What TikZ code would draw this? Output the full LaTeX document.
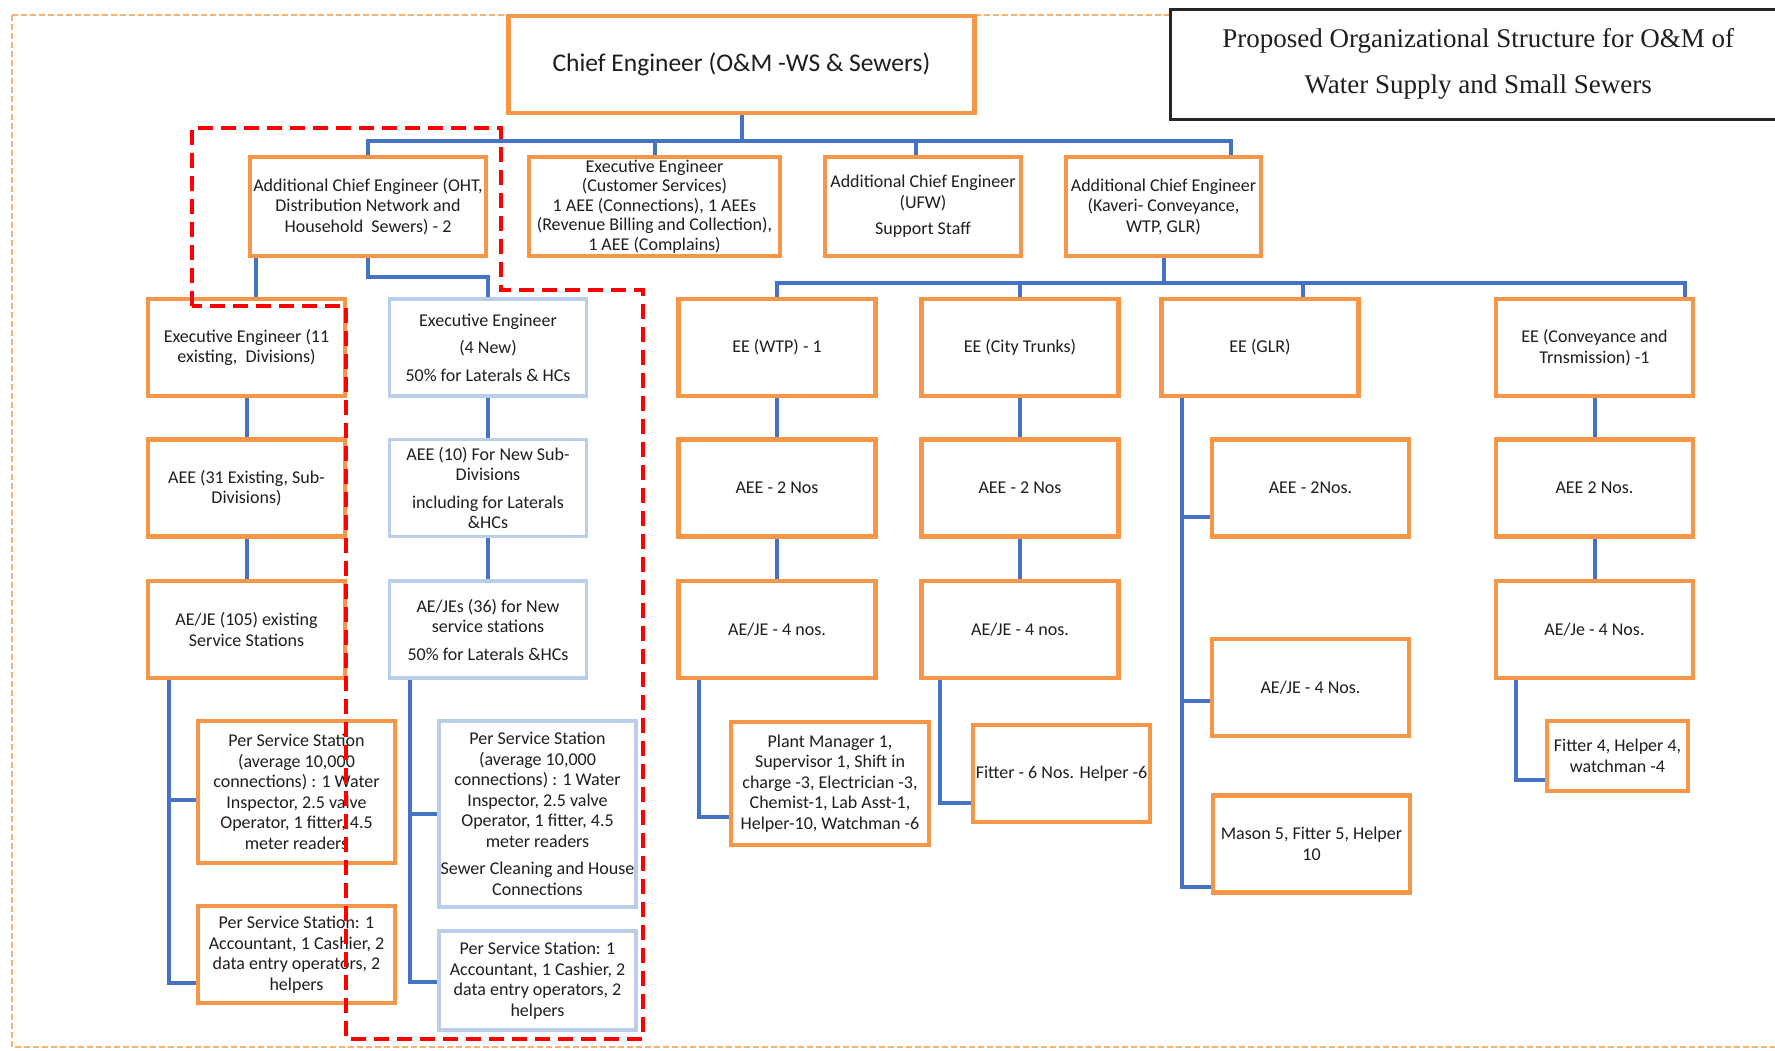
\documentclass[tikz,border=0pt]{standalone}
\usepackage{fontspec}
\setmainfont{Carlito}
\newfontfamily\titlefont{Liberation Serif}
\usepackage{tikz}

\definecolor{omorange}{HTML}{F79646}
\definecolor{omblue}{HTML}{4472C4}
\definecolor{omlight}{HTML}{BACDE9}
\definecolor{omtext}{HTML}{1E1E1E}

\begin{document}
\begin{tikzpicture}[x=1pt, y=-1pt,
    box/.style={draw=omorange, line width=4.5pt, fill=white, align=center,
                minimum width=197pt, minimum height=97pt, inner sep=0pt,
                text=omtext, font=\fontsize{18}{20.5}\selectfont},
    newbox/.style={box, draw=omlight, line width=3.5pt},
    link/.style={draw=omblue, line width=4pt},
    zone/.style={draw=red, line width=4.5pt, dash pattern=on 15pt off 8pt}
  ]
  \useasboundingbox (0,0) rectangle (1775,1050);
  % Frame and title
  \draw[omorange!75, line width=2pt, dash pattern=on 6pt off 3pt] (12,15) rectangle (1800,1047);
  \node[draw=black!85, line width=2.5pt, fill=white, anchor=north west,
        minimum width=616pt, minimum height=110pt, align=center, text=omtext,
        font=\titlefont\fontsize{27}{46}\selectfont] (title) at (1169,8)
        {Proposed Organizational Structure for O\&M of\\Water Supply and Small Sewers};
  % Top
  \node[box, minimum width=466pt, font=\fontsize{25.5}{30}\selectfont] (CE) at (741.5,64.5)
        {Chief Engineer (O\&M -WS \& Sewers)};
  % Row 1
  \node[box, minimum width=236pt, minimum height=99pt] (ACEa) at (368,206.5)
        {Additional Chief Engineer (OHT,\\Distribution Network and\\Household~ Sewers) - 2};
  \node[box, minimum width=251pt, minimum height=99pt, font=\fontsize{18}{19.5}\selectfont] (EEcs) at (654.5,206.5)
        {Executive Engineer\\(Customer Services)\\1 AEE (Connections), 1 AEEs\\(Revenue Billing and Collection),\\1 AEE (Complains)};
  \node[box, minimum width=196pt, minimum height=99pt] (ACEufw) at (923,206.5)
        {Additional Chief Engineer\\(UFW)\\[6pt]Support Staff};
  \node[box, minimum width=195pt, minimum height=99pt] (ACEkav) at (1163.5,206.5)
        {Additional Chief Engineer\\(Kaveri- Conveyance,\\WTP, GLR)};
  % Existing divisions
  \node[box] (EEa) at (246.5,347.5) {Executive Engineer (11\\existing,~ Divisions)};
  \node[box] (AEEa) at (246.5,488) {AEE (31 Existing, Sub-\\Divisions)};
  \node[box] (AEJEa) at (246.5,629.5) {AE/JE (105) existing\\Service Stations};
  \node[box, minimum height=142pt] (PSSa) at (296.5,792)
        {Per Service Station\\(average 10,000\\connections) : 1 Water\\Inspector, 2.5 valve\\Operator, 1 fitter, 4.5\\meter readers};
  \node[box] (PSSb) at (296.5,954.5)
        {Per Service Station: 1\\Accountant, 1 Cashier, 2\\data entry operators, 2\\helpers};
  % New divisions
  \node[newbox] (EEb) at (488,347.5) {Executive Engineer\\[7pt](4 New)\\[7pt]50\% for Laterals \& HCs};
  \node[newbox] (AEEb) at (488,488) {AEE (10) For New Sub-\\Divisions\\[7pt]including for Laterals\\\&HCs};
  \node[newbox] (AEJEb) at (488,629.5) {AE/JEs (36) for New\\service stations\\[7pt]50\% for Laterals \&HCs};
  \node[newbox, minimum height=186pt] (PSSc) at (537.5,814)
        {Per Service Station\\(average 10,000\\connections) : 1 Water\\Inspector, 2.5 valve\\Operator, 1 fitter, 4.5\\meter readers\\[7pt]Sewer Cleaning and House\\Connections};
  \node[newbox, minimum height=99pt] (PSSd) at (537.5,980.5)
        {Per Service Station: 1\\Accountant, 1 Cashier, 2\\data entry operators, 2\\helpers};
  % Kaveri side
  \node[box] (WTP) at (777,347.5) {EE (WTP) - 1};
  \node[box] (AEEw) at (777,488) {AEE - 2 Nos};
  \node[box] (AEJEw) at (777,629.5) {AE/JE - 4 nos.};
  \node[box, minimum width=198pt, minimum height=123pt] (PM) at (830,783.5)
        {Plant Manager 1,\\Supervisor 1, Shift in\\charge -3, Electrician -3,\\Chemist-1, Lab Asst-1,\\Helper-10, Watchman -6};
  \node[box] (CT) at (1020,347.5) {EE (City Trunks)};
  \node[box] (AEEt) at (1020,488) {AEE - 2 Nos};
  \node[box] (AEJEt) at (1020,629.5) {AE/JE - 4 nos.};
  \node[box, minimum width=177pt] (FitA) at (1061.5,773.5) {Fitter - 6 Nos. Helper -6};
  \node[box] (GLR) at (1260,347.5) {EE (GLR)};
  \node[box] (AEEg) at (1310.5,488) {AEE - 2Nos.};
  \node[box] (AEJEg) at (1310.5,687.5) {AE/JE - 4 Nos.};
  \node[box] (Mason) at (1311.5,844) {Mason 5, Fitter 5, Helper\\10};
  \node[box] (Conv) at (1594.5,347.5) {EE (Conveyance and\\Trnsmission) -1};
  \node[box] (AEEv) at (1594.5,488) {AEE 2 Nos.};
  \node[box] (AEJEv) at (1594.5,629.5) {AE/Je - 4 Nos.};
  \node[box, minimum width=141pt, minimum height=70pt] (FitB) at (1617.5,756) {Fitter 4, Helper 4,\\watchman -4};
  % Links
  \coordinate (busA) at (741.5,141);
  \coordinate (busB) at (1163.5,283);
  \draw[link] (CE.south) -- (busA);
  \draw[link] (ACEa.north) |- (busA);
  \draw[link] (EEcs.north) |- (busA);
  \draw[link] ([xshift=-7pt]ACEufw.north) |- (busA);
  \draw[link] ([xshift=67.5pt]ACEkav.north) |- (busA);
  \draw[link] ([xshift=-112pt]ACEa.south) -- ([xshift=-112pt]ACEa.south |- EEa.north);
  \draw[link] (ACEa.south) -- ++(0,19) -| (EEb.north);
  \draw[link] (EEa) -- (AEEa) -- (AEJEa);
  \draw[link] ([xshift=-77.5pt]AEJEa.south) |- ([yshift=-8pt]PSSa.west);
  \draw[link] ([xshift=-77.5pt]AEJEa.south) |- ([yshift=-28.5pt]PSSb.west);
  \draw[link] (EEb) -- (AEEb) -- (AEJEb);
  \draw[link] ([xshift=-78pt]AEJEb.south) |- (PSSc.west);
  \draw[link] ([xshift=-78pt]AEJEb.south) |- ([yshift=-1.5pt]PSSd.west);
  \draw[link] (ACEkav.south) -- (busB);
  \draw[link] (WTP.north) |- (busB);
  \draw[link] (CT.north) |- (busB);
  \draw[link] ([xshift=43pt]GLR.north) |- (busB);
  \draw[link] ([xshift=90.5pt]Conv.north) |- (busB);
  \draw[link] (WTP) -- (AEEw) -- (AEJEw);
  \draw[link] ([xshift=-78pt]AEJEw.south) |- ([yshift=-33.5pt]PM.west);
  \draw[link] (CT) -- (AEEt) -- (AEJEt);
  \draw[link] ([xshift=-80pt]AEJEt.south) |- ([yshift=-29.5pt]FitA.west);
  \draw[link] ([xshift=-78pt]GLR.south) |- ([yshift=-29pt]AEEg.west);
  \draw[link] ([xshift=-78pt]GLR.south) |- ([yshift=-13.5pt]AEJEg.west);
  \draw[link] ([xshift=-78pt]GLR.south) |- ([yshift=-43pt]Mason.west);
  \draw[link] (Conv) -- (AEEv) -- (AEJEv);
  \draw[link] ([xshift=-78.5pt]AEJEv.south) |- ([yshift=-24pt]FitB.west);
  % Proposed zone
  \draw[zone] (192,306) -- (192,128) -- (501,128) -- (501,290) -- (643,290)
              -- (643,1039) -- (346,1039) -- (346,306) -- cycle;
\end{tikzpicture}
\end{document}
